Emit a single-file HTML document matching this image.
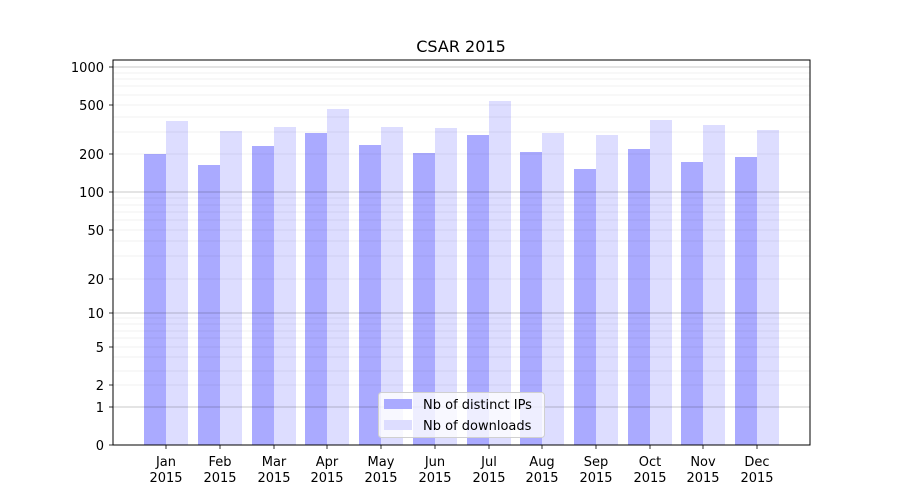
<!DOCTYPE html>
<html><head><meta charset="utf-8"><style>
body{margin:0;background:#fff}
svg{display:block;font-family:"DejaVu Sans","Liberation Sans",sans-serif}
</style></head><body>
<svg width="900" height="500" viewBox="0 0 900 500" xmlns="http://www.w3.org/2000/svg">
<rect width="900" height="500" fill="#fff"/>
<g fill="#aaaaff">
<rect x="144" y="154" width="22" height="291"/><rect x="198" y="165" width="22" height="280"/><rect x="252" y="146" width="22" height="299"/><rect x="305" y="133" width="22" height="312"/><rect x="359" y="145" width="22" height="300"/><rect x="413" y="153" width="22" height="292"/><rect x="467" y="135" width="22" height="310"/><rect x="520" y="152" width="22" height="293"/><rect x="574" y="169" width="22" height="276"/><rect x="628" y="149" width="22" height="296"/><rect x="681" y="162" width="22" height="283"/><rect x="735" y="157" width="22" height="288"/>
</g>
<g fill="#ddddff">
<rect x="166" y="121" width="22" height="324"/><rect x="220" y="131" width="22" height="314"/><rect x="274" y="127" width="22" height="318"/><rect x="327" y="109" width="22" height="336"/><rect x="381" y="127" width="22" height="318"/><rect x="435" y="128" width="22" height="317"/><rect x="489" y="101" width="22" height="344"/><rect x="542" y="133" width="22" height="312"/><rect x="596" y="135" width="22" height="310"/><rect x="650" y="120" width="22" height="325"/><rect x="703" y="125" width="22" height="320"/><rect x="757" y="130" width="22" height="315"/>
</g>
<g stroke="#000" stroke-opacity="0.08" stroke-width="0.8">
<line x1="113" x2="810" y1="154" y2="154"/><line x1="113" x2="810" y1="132" y2="132"/><line x1="113" x2="810" y1="117" y2="117"/><line x1="113" x2="810" y1="105" y2="105"/><line x1="113" x2="810" y1="95" y2="95"/><line x1="113" x2="810" y1="86" y2="86"/><line x1="113" x2="810" y1="79" y2="79"/><line x1="113" x2="810" y1="73" y2="73"/>
<line x1="113" x2="810" y1="279" y2="279"/><line x1="113" x2="810" y1="256" y2="256"/><line x1="113" x2="810" y1="241" y2="241"/><line x1="113" x2="810" y1="230" y2="230"/><line x1="113" x2="810" y1="220" y2="220"/><line x1="113" x2="810" y1="212" y2="212"/><line x1="113" x2="810" y1="205" y2="205"/><line x1="113" x2="810" y1="198" y2="198"/>
<line x1="113" x2="810" y1="385" y2="385"/><line x1="113" x2="810" y1="371" y2="371"/><line x1="113" x2="810" y1="357" y2="357"/><line x1="113" x2="810" y1="347" y2="347"/><line x1="113" x2="810" y1="338" y2="338"/><line x1="113" x2="810" y1="331" y2="331"/><line x1="113" x2="810" y1="324" y2="324"/><line x1="113" x2="810" y1="318" y2="318"/>
</g>
<g stroke="#000" stroke-opacity="0.28" stroke-width="0.8">
<line x1="113" x2="810" y1="67" y2="67"/><line x1="113" x2="810" y1="192" y2="192"/><line x1="113" x2="810" y1="313" y2="313"/><line x1="113" x2="810" y1="407" y2="407"/>
</g>
<rect x="113" y="60" width="697" height="385" fill="none" stroke="#000" stroke-width="1"/>
<g stroke="#000" stroke-width="0.8">
<line x1="109" x2="113" y1="67" y2="67"/><line x1="109" x2="113" y1="105" y2="105"/><line x1="109" x2="113" y1="154" y2="154"/><line x1="109" x2="113" y1="192" y2="192"/><line x1="109" x2="113" y1="230" y2="230"/><line x1="109" x2="113" y1="279" y2="279"/><line x1="109" x2="113" y1="313" y2="313"/><line x1="109" x2="113" y1="347" y2="347"/><line x1="109" x2="113" y1="385" y2="385"/><line x1="109" x2="113" y1="407" y2="407"/><line x1="109" x2="113" y1="445" y2="445"/>
<line x1="166" x2="166" y1="445" y2="449"/><line x1="220" x2="220" y1="445" y2="449"/><line x1="274" x2="274" y1="445" y2="449"/><line x1="327" x2="327" y1="445" y2="449"/><line x1="381" x2="381" y1="445" y2="449"/><line x1="435" x2="435" y1="445" y2="449"/><line x1="489" x2="489" y1="445" y2="449"/><line x1="542" x2="542" y1="445" y2="449"/><line x1="596" x2="596" y1="445" y2="449"/><line x1="650" x2="650" y1="445" y2="449"/><line x1="703" x2="703" y1="445" y2="449"/><line x1="757" x2="757" y1="445" y2="449"/>
</g>
<g font-size="13" text-anchor="end" fill="#000">
<text x="104" y="72">1000</text><text x="104" y="110">500</text><text x="104" y="159">200</text><text x="104" y="197">100</text><text x="104" y="235">50</text><text x="104" y="284">20</text><text x="104" y="318">10</text><text x="104" y="352">5</text><text x="104" y="390">2</text><text x="104" y="412">1</text><text x="104" y="450">0</text>
</g>
<g font-size="13" text-anchor="middle" fill="#000">
<text x="166" y="466">Jan</text><text x="166" y="482">2015</text>
<text x="220" y="466">Feb</text><text x="220" y="482">2015</text>
<text x="274" y="466">Mar</text><text x="274" y="482">2015</text>
<text x="327" y="466">Apr</text><text x="327" y="482">2015</text>
<text x="381" y="466">May</text><text x="381" y="482">2015</text>
<text x="435" y="466">Jun</text><text x="435" y="482">2015</text>
<text x="489" y="466">Jul</text><text x="489" y="482">2015</text>
<text x="542" y="466">Aug</text><text x="542" y="482">2015</text>
<text x="596" y="466">Sep</text><text x="596" y="482">2015</text>
<text x="650" y="466">Oct</text><text x="650" y="482">2015</text>
<text x="703" y="466">Nov</text><text x="703" y="482">2015</text>
<text x="757" y="466">Dec</text><text x="757" y="482">2015</text>
</g>
<text x="461" y="52" font-size="16" text-anchor="middle">CSAR 2015</text>
<rect x="378.5" y="392.5" width="166" height="45" rx="3" fill="#fff" fill-opacity="0.8" stroke="#d0d0d0"/>
<rect x="384" y="399" width="28" height="10" fill="#aaaaff"/>
<rect x="384" y="420" width="28" height="10" fill="#ddddff"/>
<text x="423" y="409" font-size="13">Nb of distinct IPs</text>
<text x="423" y="430" font-size="13">Nb of downloads</text>
</svg>
</body></html>
